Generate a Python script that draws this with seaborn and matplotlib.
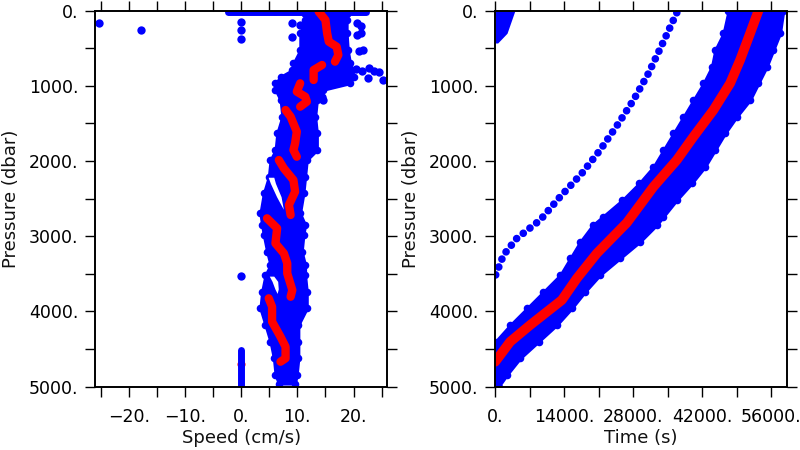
import numpy as np
import pandas as pd
import seaborn as sns
import matplotlib
matplotlib.use("Agg")
import matplotlib.pyplot as plt
from matplotlib.ticker import MultipleLocator, FuncFormatter

# ---- left panel: speed profile ----
# blue cloud outline (pressure, left edge, right edge)
cloud_p = [40, 124, 300, 523, 700, 789, 878, 966, 1055, 1188, 1410, 1631, 1853,
           1986, 2208, 2430, 2695, 2850, 2983, 3205, 3382, 3515, 3737, 3958,
           4180, 4402, 4623, 4845, 4960]
cloud_left = [11.4, 11.4, 10.5, 10.5, 9.3, 9.1, 7.0, 6.1, 6.1, 7.0, 7.3, 6.4, 6.1,
              5.2, 4.9, 4.0, 3.4, 3.7, 4.0, 4.6, 5.2, 4.3, 3.7, 3.4,
              4.3, 5.2, 5.8, 6.1, 6.7]
cloud_right = [18.8, 18.8, 18.8, 19.0, 19.4, 19.8, 20.0, 19.4, 14.5, 13.5, 13.2, 13.5, 13.5,
               11.7, 11.4, 11.1, 10.5, 11.4, 11.1, 10.8, 11.4, 11.4, 11.7, 11.7,
               10.2, 10.2, 10.2, 9.9, 9.6]

# empty wedges inside the cloud
gap1_p = [2215, 2296, 2474, 2640]
gap1_lo = [4.8, 5.2, 6.3, 7.5]
gap1_hi = [5.8, 6.1, 7.1, 7.5]
gap2_p = [3530, 3600, 3700, 3760]
gap2_lo = [5.0, 5.5, 6.0, 6.4]
gap2_hi = [5.8, 6.5, 6.6, 6.4]

# stray blue points
stray_speed = [-25.4, -17.8, 0.0, 0.0, 0.0, 0.0, 9.1, 10.5, 9.1, 20.6, 21.3, 20.6, 21.3,
               21.7, 21.0, 20.5, 21.5, 22.7, 23.7, 24.5, 25.3, 22.5, 14.4, 14.6]
stray_pres = [168, 257, 146, 257, 381, 3524, 168, 190, 346, 170, 200, 320, 300,
              523, 540, 780, 800, 760, 800, 820, 920, 900, 1144, 1190]

# surface row and bottom column of blue points
surf_speed = [-2.4, 22.2]
surf_pres = [12, 12]
col_speed = [0.0, 0.0]
col_pres = [4513, 5000]

# red profile, in segments
red_speed = [13.8, 15.0, 15.3, 15.6, 17.0, 17.3, 16.7,
             14.4, 12.9, 12.9,
             10.5, 9.9, 11.4, 11.7, 10.5,
             7.9, 8.8, 9.9, 9.6, 9.3, 9.9,
             6.7, 7.6, 9.3, 9.6, 8.5, 8.8,
             4.6, 6.4, 6.1, 7.6, 8.2, 8.2, 9.1, 8.8,
             4.9, 5.5, 5.5, 7.0, 7.9, 7.9, 7.0]
red_pres = [13, 124, 300, 412, 479, 589, 678,
            722, 789, 922,
            966, 1077, 1144, 1210, 1277,
            1321, 1410, 1609, 1764, 1853, 1942,
            1986, 2097, 2252, 2407, 2584, 2717,
            2761, 2894, 3094, 3227, 3360, 3493, 3715, 3804,
            3825, 3937, 4136, 4336, 4469, 4623, 4668]
red_seg = [0] * 7 + [1] * 3 + [2] * 5 + [3] * 6 + [4] * 6 + [5] * 8 + [6] * 7
red_dot_speed = [0.2, 6.0, 0.0]
red_dot_pres = [8, 8, 4700]

# ---- right panel: time vs pressure ----
band_p = [0, 301, 523, 745, 966, 1188, 1410, 1631, 1853, 2075, 2296, 2518, 2740,
          2850, 3072, 3293, 3515, 3737, 3958, 4180, 4402, 4623, 4845, 5000]
band_lo = [47340, 46320, 44640, 43960, 42270, 40240, 38210, 36180, 34150, 32120, 29200,
           25800, 21800, 19800, 17250, 15220, 13190, 9800, 6430, 3040, 0, 0, 0, 0]
band_hi = [58500, 57830, 56470, 55130, 53430, 51740, 49040, 46670, 44640, 42610, 39910,
           36870, 34150, 32800, 29420, 25360, 21300, 18260, 15560, 12510, 8790, 5070,
           2370, 700]

blob_p = [0, 150, 300, 430]
blob_hi = [4000, 3200, 2400, 500]

diag_t = [36860, 34150, 31110, 28070, 25030, 21300, 17590, 13190, 9130, 4400, 1690, 0]
diag_p = [27, 412, 833, 1188, 1498, 1853, 2163, 2474, 2784, 3027, 3249, 3530]

mean_t = [0, 3040, 7100, 13530, 16570, 20630, 26720, 32130, 36860, 40240, 44300,
          47680, 49710, 51740, 53430]
mean_p = [4668, 4402, 4180, 3848, 3560, 3227, 2820, 2341, 1986, 1676, 1321,
          966, 656, 301, 0]

BLUE = "#0000ff"
RED = "#ff0000"


def dot_fmt(v, pos):
    return f"{v:.0f}.".replace("-", "\u2212")


def style_axis(ax):
    for sp in ax.spines.values():
        sp.set_linewidth(1.4)
        sp.set_color("black")
    ax.tick_params(which="both", direction="out", length=7.2, width=1.0,
                   top=True, right=True, labeltop=False, labelright=False,
                   labelsize=12.5, pad=5, colors="black")
    ax.tick_params(axis="x", which="both", pad=8)
    ax.yaxis.set_major_locator(MultipleLocator(1000))
    ax.yaxis.set_minor_locator(MultipleLocator(500))
    ax.yaxis.set_major_formatter(FuncFormatter(dot_fmt))
    ax.xaxis.set_major_formatter(FuncFormatter(dot_fmt))
    ax.set_ylim(5000, 0)
    ax.set_ylabel("Pressure (dbar)", fontsize=13, labelpad=6, color="#111111")


sns.set_style("ticks")
plt.rcParams["font.family"] = ["DejaVu Sans"]

fig = plt.figure(figsize=(8, 4.5), dpi=100)
ax1 = fig.add_axes([0.119, 0.1407, 0.365, 0.8356])
ax2 = fig.add_axes([0.619, 0.1407, 0.3646, 0.8356])

# left panel
ax1.fill_betweenx(cloud_p, cloud_left, cloud_right, color=BLUE, lw=2,
                  joinstyle="round")
sns.scatterplot(x=cloud_left + cloud_right, y=cloud_p + cloud_p, color=BLUE, s=30,
                linewidth=0, ax=ax1)
ax1.fill_betweenx(gap1_p, gap1_lo, gap1_hi, color="white", lw=0)
ax1.fill_betweenx(gap2_p, gap2_lo, gap2_hi, color="white", lw=0)
sns.lineplot(x=surf_speed, y=surf_pres, sort=False, estimator=None, color=BLUE,
             lw=5, solid_capstyle="round", ax=ax1)
sns.lineplot(x=col_speed, y=col_pres, sort=False, estimator=None, color=BLUE,
             lw=5, solid_capstyle="round", ax=ax1)
sns.scatterplot(x=stray_speed, y=stray_pres, color=BLUE, s=36, linewidth=0, ax=ax1)
red_df = pd.DataFrame({"speed": red_speed, "pres": red_pres, "seg": red_seg})
sns.lineplot(data=red_df, x="speed", y="pres", units="seg", estimator=None,
             sort=False, color=RED, lw=6, solid_capstyle="round",
             solid_joinstyle="round", ax=ax1)
sns.scatterplot(x=red_dot_speed, y=red_dot_pres, color=RED, s=34, linewidth=0, ax=ax1)

style_axis(ax1)
ax1.set_xlim(-26, 26)
ax1.xaxis.set_major_locator(MultipleLocator(10))
ax1.xaxis.set_minor_locator(MultipleLocator(5))
ax1.set_xlabel("Speed (cm/s)", fontsize=13, labelpad=2, color="#111111")

# right panel
ax2.fill_betweenx(band_p, band_lo, band_hi, color=BLUE, lw=2, joinstyle="round")
sns.scatterplot(x=band_lo + band_hi, y=band_p + band_p, color=BLUE, s=30,
                linewidth=0, ax=ax2)
ax2.fill_betweenx(blob_p, 0, blob_hi, color=BLUE, lw=0)
sns.lineplot(x=diag_t, y=diag_p, sort=False, estimator=None, color=BLUE, lw=5.5,
             linestyle=(0, (0.01, 1.1)), dash_capstyle="round", ax=ax2)
sns.lineplot(x=mean_t, y=mean_p, sort=False, estimator=None, color=RED, lw=7,
             solid_capstyle="round", solid_joinstyle="round", ax=ax2)

style_axis(ax2)
ax2.set_xlim(0, 59200)
ax2.xaxis.set_major_locator(MultipleLocator(14000))
ax2.xaxis.set_minor_locator(MultipleLocator(7000))
ax2.set_xlabel("Time (s)", fontsize=13, labelpad=2, color="#111111")

fig.savefig("out.png", dpi=100)
